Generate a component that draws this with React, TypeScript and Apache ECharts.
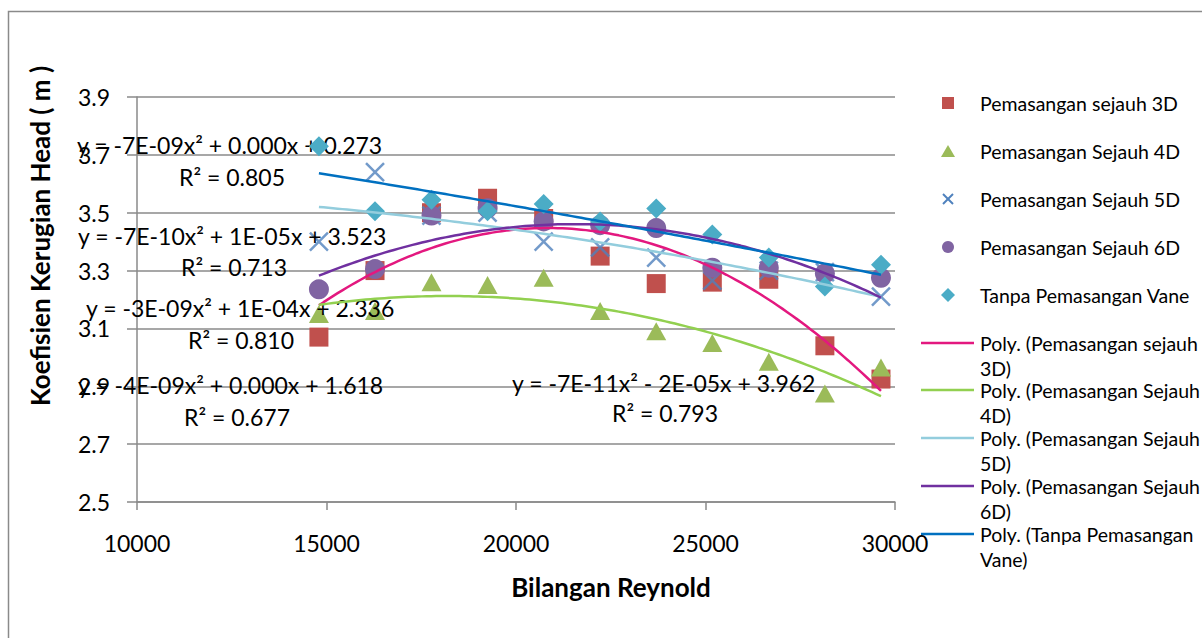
import React, { useEffect, useRef } from "react";
import * as echarts from "echarts";

// ---------- data ----------
const reynolds = [14800, 16280, 17770, 19250, 20730, 22220, 23700, 25180, 26670, 28150, 29630];
const sejauh3D = [3.07, 3.3, 3.5, 3.55, 3.48, 3.35, 3.255, 3.26, 3.27, 3.04, 2.925];
const sejauh4D = [3.15, 3.16, 3.26, 3.25, 3.275, 3.16, 3.09, 3.05, 2.985, 2.875, 2.965];
const sejauh5D = [3.4, 3.64, 3.49, 3.5, 3.4, 3.38, 3.345, 3.265, 3.3, 3.295, 3.21];
const sejauh6D = [3.235, 3.305, 3.49, 3.515, 3.47, 3.457, 3.447, 3.31, 3.31, 3.29, 3.275];
const tanpaVane = [3.73, 3.505, 3.545, 3.505, 3.53, 3.47, 3.515, 3.425, 3.345, 3.245, 3.32];

const seriesNames = [
  "Pemasangan sejauh 3D",
  "Pemasangan Sejauh 4D",
  "Pemasangan Sejauh 5D",
  "Pemasangan Sejauh 6D",
  "Tanpa Pemasangan Vane",
];
const trendNames = [
  "Poly. (Pemasangan sejauh 3D)",
  "Poly. (Pemasangan Sejauh 4D)",
  "Poly. (Pemasangan Sejauh 5D)",
  "Poly. (Pemasangan Sejauh 6D)",
  "Poly. (Tanpa Pemasangan Vane)",
];
const trendLegendLines = [
  ["Poly. (Pemasangan sejauh", "3D)"],
  ["Poly. (Pemasangan Sejauh", "4D)"],
  ["Poly. (Pemasangan Sejauh", "5D)"],
  ["Poly. (Pemasangan Sejauh", "6D)"],
  ["Poly. (Tanpa Pemasangan", "Vane)"],
];
const equationTexts = [
  "y = -7E-09x² + 0.000x + 0.273",
  "y = -7E-10x² + 1E-05x + 3.523",
  "y = -3E-09x² + 1E-04x + 2.336",
  "y = -4E-09x² + 0.000x + 1.618",
  "y = -7E-11x² - 2E-05x + 3.962",
];
const r2Texts = ["R² = 0.805", "R² = 0.713", "R² = 0.810", "R² = 0.677", "R² = 0.793"];
const xAxisTitle = "Bilangan Reynold";
const yAxisTitle = "Koefisien Kerugian Head ( m )";

// ---------- styles ----------
const FONT = "Lato, 'Open Sans', sans-serif";
const markerColors = ["#C0504D", "#9BBB59", "#4F81BD", "#8064A2", "#4BACC6"];
const trendColors = ["#E3187F", "#92D050", "#93CDDD", "#7030A0", "#0070C0"];
const GRAY = "#8a8a8a";

// equation label positions (left x, centre y) in px
const eqPos = [
  [77, 145],
  [78, 236],
  [86, 308],
  [78, 385],
  [512, 383],
];
const r2Pos = [
  [179, 177],
  [181, 267],
  [188, 340],
  [184, 417],
  [612, 413],
];

function polyfit2(xs: number[], ys: number[]) {
  const c0 = 22000, sc = 10000;
  const S = [0, 0, 0, 0, 0];
  const T = [0, 0, 0];
  for (let i = 0; i < xs.length; i++) {
    const t = (xs[i] - c0) / sc;
    let p = 1;
    for (let k = 0; k < 5; k++) {
      S[k] += p;
      if (k < 3) T[k] += p * ys[i];
      p *= t;
    }
  }
  const A = [
    [S[0], S[1], S[2], T[0]],
    [S[1], S[2], S[3], T[1]],
    [S[2], S[3], S[4], T[2]],
  ];
  for (let i = 0; i < 3; i++) {
    let piv = i;
    for (let r = i + 1; r < 3; r++) if (Math.abs(A[r][i]) > Math.abs(A[piv][i])) piv = r;
    [A[i], A[piv]] = [A[piv], A[i]];
    for (let r = 0; r < 3; r++) {
      if (r === i) continue;
      const f = A[r][i] / A[i][i];
      for (let k = i; k < 4; k++) A[r][k] -= f * A[i][k];
    }
  }
  const coef = [A[0][3] / A[0][0], A[1][3] / A[1][1], A[2][3] / A[2][2]];
  return (x: number) => {
    const t = (x - c0) / sc;
    return coef[0] + coef[1] * t + coef[2] * t * t;
  };
}

function trendPoints(xs: number[], ys: number[]) {
  const f = polyfit2(xs, ys);
  const lo = Math.min(...xs), hi = Math.max(...xs);
  const n = 120;
  const pts: number[][] = [];
  for (let i = 0; i <= n; i++) {
    const x = lo + ((hi - lo) * i) / n;
    pts.push([x, f(x)]);
  }
  return pts;
}

export default function App() {
  const ref = useRef<HTMLDivElement>(null);
  useEffect(() => {
    if (!ref.current) return;
    const chart = echarts.init(ref.current, undefined, { renderer: "svg" });
    const allY = [sejauh3D, sejauh4D, sejauh5D, sejauh6D, tanpaVane];
    const symbols: any[] = ["rect", "triangle", "path://M0,0L10,10M10,0L0,10", "circle", "diamond"];
    const sizes: any[] = [19, [20, 18], 18, 20, 20];

    const scatterSeries = allY.map((ys, i) => ({
      name: seriesNames[i],
      type: "scatter",
      data: reynolds.map((x, j) => [x, ys[j]]),
      symbol: symbols[i],
      symbolSize: sizes[i],
      itemStyle:
        i === 2
          ? { color: "rgba(0,0,0,0)", borderColor: markerColors[i], borderWidth: 2.5 }
          : { color: markerColors[i], opacity: 1 },
      z: 2 + i,
    }));
    const lineSeries = allY.map((ys, i) => ({
      name: trendNames[i],
      type: "line",
      data: trendPoints(reynolds, ys),
      showSymbol: false,
      symbol: "none",
      lineStyle: { color: trendColors[i], width: 2.5 },
      z: 10 + i,
    }));

    const EQ_FONT = `23px ${FONT}`;
    const LEG_FONT = `19.5px ${FONT}`;
    const TITLE_FONT = `bold 26px ${FONT}`;

    const graphic: any[] = [];
    graphic.push({
      type: "rect",
      shape: { x: 8.5, y: 11.5, width: 1400, height: 800 },
      style: { fill: "none", stroke: GRAY, lineWidth: 1.5 },
      z: -10,
    });
    equationTexts.forEach((t, i) => {
      graphic.push({
        type: "text",
        x: eqPos[i][0],
        y: eqPos[i][1],
        style: { text: t, font: EQ_FONT, fill: "#000", align: "left", verticalAlign: "middle" },
        z: 5,
      });
      graphic.push({
        type: "text",
        x: r2Pos[i][0],
        y: r2Pos[i][1],
        style: { text: r2Texts[i], font: EQ_FONT, fill: "#000", align: "left", verticalAlign: "middle" },
        z: 5,
      });
    });
    graphic.push({
      type: "text",
      x: 611,
      y: 587,
      style: { text: xAxisTitle, font: TITLE_FONT, fill: "#000", align: "center", verticalAlign: "middle" },
    });
    graphic.push({
      type: "text",
      x: 40,
      y: 236,
      rotation: Math.PI / 2,
      style: { text: yAxisTitle, font: TITLE_FONT, fill: "#000", align: "center", verticalAlign: "middle" },
    });
    const legY = [103, 151, 199, 247, 295];
    const mx = 948;
    legY.forEach((y, i) => {
      graphic.push({
        type: "text",
        x: 980,
        y,
        style: { text: seriesNames[i], font: LEG_FONT, fill: "#000", align: "left", verticalAlign: "middle" },
      });
    });
    graphic.push({ type: "rect", shape: { x: mx - 6, y: legY[0] - 6, width: 12, height: 12 }, style: { fill: markerColors[0] } });
    graphic.push({
      type: "polygon",
      shape: { points: [[mx, legY[1] - 6], [mx + 7, legY[1] + 6], [mx - 7, legY[1] + 6]] },
      style: { fill: markerColors[1] },
    });
    graphic.push({ type: "line", shape: { x1: mx - 5, y1: legY[2] - 5, x2: mx + 5, y2: legY[2] + 5 }, style: { stroke: markerColors[2], lineWidth: 2 } });
    graphic.push({ type: "line", shape: { x1: mx - 5, y1: legY[2] + 5, x2: mx + 5, y2: legY[2] - 5 }, style: { stroke: markerColors[2], lineWidth: 2 } });
    graphic.push({ type: "circle", shape: { cx: mx, cy: legY[3], r: 6 }, style: { fill: markerColors[3] } });
    graphic.push({
      type: "polygon",
      shape: { points: [[mx, legY[4] - 7], [mx + 7, legY[4]], [mx, legY[4] + 7], [mx - 7, legY[4]]] },
      style: { fill: markerColors[4] },
    });
    const lineLegY = [343, 390, 438, 486, 534];
    lineLegY.forEach((y, i) => {
      graphic.push({ type: "line", shape: { x1: 921, y1: y, x2: 974, y2: y }, style: { stroke: trendColors[i], lineWidth: 2.5 } });
      graphic.push({
        type: "text",
        x: 980,
        y,
        style: { text: trendLegendLines[i][0], font: LEG_FONT, fill: "#000", align: "left", verticalAlign: "middle" },
      });
      graphic.push({
        type: "text",
        x: 980,
        y: y + 25,
        style: { text: trendLegendLines[i][1], font: LEG_FONT, fill: "#000", align: "left", verticalAlign: "middle" },
      });
    });

    chart.setOption({
      animation: false,
      backgroundColor: "#fff",
      textStyle: { fontFamily: FONT },
      grid: { left: 137, right: 307, top: 97, bottom: 136, containLabel: false },
      xAxis: {
        type: "value",
        min: 10000,
        max: 30000,
        interval: 5000,
        axisLine: { show: true, lineStyle: { color: GRAY, width: 1.5 } },
        axisTick: { show: true, length: 8, lineStyle: { color: GRAY, width: 1.5 } },
        splitLine: { show: false },
        axisLabel: {
          fontSize: 23,
          color: "#000",
          margin: 29,
          fontFamily: FONT,
          formatter: (v: number) => String(Math.round(v)),
        },
      },
      yAxis: {
        type: "value",
        min: 2.5,
        max: 3.9,
        interval: 0.2,
        axisLine: { show: true, lineStyle: { color: GRAY, width: 1.5 } },
        axisTick: { show: true, length: 10, lineStyle: { color: GRAY, width: 1.5 } },
        splitLine: { show: true, lineStyle: { color: GRAY, width: 1.5 } },
        axisLabel: {
          fontSize: 23,
          color: "#000",
          margin: 27,
          fontFamily: FONT,
          formatter: (v: number) => v.toFixed(1),
        },
      },
      series: [...scatterSeries, ...lineSeries],
      graphic,
    });
    return () => chart.dispose();
  }, []);
  return (
    <div
      ref={ref}
      style={{ position: "fixed", left: 0, top: 0, width: 1202, height: 638, background: "#fff" }}
    />
  );
}
